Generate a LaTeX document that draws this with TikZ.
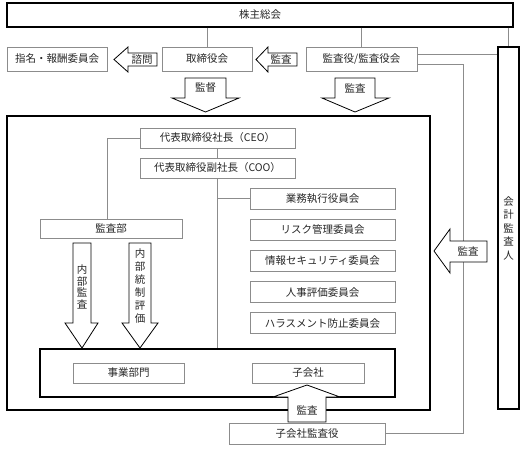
\documentclass[tikz,border=0pt]{standalone}
\usepackage{fontspec}
\newfontfamily\jpfont{Noto Sans CJK JP}
\usetikzlibrary{positioning}

\tikzset{
    jp/.style = {font=\jpfont\fontsize{10.5}{12}\selectfont, text=black!85},
    gbox/.style = {jp, draw=black!45, line width=0.7pt, inner sep=0pt, minimum height=21pt},
    tbox/.style = {jp, draw, line width=1.3pt, inner sep=0pt},
    gline/.style = {draw=black!45, line width=0.8pt},
    barrow/.style = {draw, line width=0.8pt, fill=white, line join=miter},
    vtext/.style = {jp, align=center, inner sep=0pt},
}

\begin{document}
\begin{tikzpicture}[x=1pt, y=-1pt]
    \useasboundingbox (0,0) rectangle (526,450);

    % shareholders and board level
    \node[tbox, minimum width=506pt, minimum height=24pt] (soukai) at (260,15) {株主総会};
    \node[gbox, minimum width=100pt, minimum height=24pt] (shimei) at (57,59) {指名・報酬委員会};
    \node[gbox, minimum width=90pt, minimum height=24pt] (torishimari) at (207,59) {取締役会};
    \node[gbox, minimum width=111pt, minimum height=24pt] (kansayaku) at (361.5,59) {監査役/監査役会};
    \node[tbox, minimum width=21pt, minimum height=362pt] (kaikei) at (508.5,228) {};
    \node[vtext, font=\jpfont\fontsize{10.5}{13.5}\selectfont] (kaikeilabel) at (kaikei.center) {会\\計\\監\\査\\人};

    \draw[gline] (torishimari |- soukai.south) -- (torishimari.north);
    \draw[gline] (kansayaku |- soukai.south) -- (kansayaku.north);
    \draw[gline] (kaikei |- soukai.south) -- (kaikei.north);
    \draw[gline] ([yshift=5pt]kansayaku.east) coordinate (k1) -- (k1 -| kaikei.west);

    % company
    \node[tbox, minimum width=423pt, minimum height=294pt] (honsha) at (218.5,263) {};
    \node[gbox, minimum width=155pt, minimum height=20pt] (ceo) at (217.5,138) {代表取締役社長（CEO）};
    \node[gbox, minimum width=155pt, minimum height=20pt] (coo) at (217.5,168) {代表取締役副社長（COO）};
    \node[gbox, minimum width=142pt, minimum height=19pt] (kansabu) at (111,229) {監査部};

    \node[gbox, minimum width=145pt] (gyomu) at (322.5,198.5) {業務執行役員会};
    \node[gbox, minimum width=145pt, below=9.5pt of gyomu] (risk) {リスク管理委員会};
    \node[gbox, minimum width=145pt, below=9.5pt of risk] (joho) {情報セキュリティ委員会};
    \node[gbox, minimum width=145pt, below=9.5pt of joho] (jinji) {人事評価委員会};
    \node[gbox, minimum width=145pt, below=9.5pt of jinji] (harassment) {ハラスメント防止委員会};

    \node[tbox, minimum width=355pt, minimum height=48pt] (genba) at (217.5,373) {};
    \node[gbox, minimum width=111pt, minimum height=20pt] (jigyo) at (128.5,373) {事業部門};
    \node[gbox, minimum width=112pt, minimum height=20pt] (kogaisha) at (308,373) {子会社};
    \node[gbox, minimum width=156pt, minimum height=21pt] (kokansa) at (307,433.5) {子会社監査役};

    \draw[gline] (ceo) -- (coo);
    \draw[gline] (coo.south) -- (coo.south |- genba.north);
    \draw[gline] (coo.south |- gyomu.west) -- (gyomu.west);
    \draw[gline] (ceo.west) -| ([xshift=-4pt]kansabu.north);
    \coordinate (kcorner) at (463,0);
    \draw[gline] ([yshift=-5pt]kansayaku.east) -| (kcorner |- kokansa.east) -- (kokansa.east);

    % block arrows
    \draw[barrow] (157,53) -- (128,53) -- (128,47) -- (114,59.5) -- (128,72) -- (128,66) -- (157,66) -- cycle;
    \node[jp] (shimon) at (142,59.5) {諮問};
    \draw[barrow] (297,53) -- (268,53) -- (268,47) -- (256,59.5) -- (268,72) -- (268,66) -- (297,66) -- cycle;
    \node[jp] (kansa1) at (281,59.5) {監査};

    \draw[barrow] (185,78) -- (226,78) -- (226,98) -- (239,98) -- (205.5,112) -- (172,98) -- (185,98) -- cycle;
    \node[jp] (kantoku) at (205.5,88) {監督};
    \draw[barrow] (335,78) -- (375,78) -- (375,98) -- (389,98) -- (355,112) -- (322,98) -- (335,98) -- cycle;
    \node[jp] (kansa2) at (355,88) {監査};

    \draw[barrow] (487,241) -- (450,241) -- (450,229) -- (434,251) -- (450,273) -- (450,262) -- (487,262) -- cycle;
    \node[jp] (kansa3) at (468,251.5) {監査};

    \draw[barrow] (288,422) -- (288,397) -- (273,397) -- (307,385) -- (340,397) -- (326,397) -- (326,422) -- cycle;
    \node[jp] (kansa4) at (307,410) {監査};

    \draw[barrow] (73,243) -- (91,243) -- (91,323) -- (98,323) -- (82,348) -- (65,323) -- (73,323) -- cycle;
    \node[vtext, font=\jpfont\fontsize{10.5}{11.5}\selectfont] (naibukansa) at (82,287) {内\\部\\監\\査};
    \draw[barrow] (129,243) -- (151,243) -- (151,323) -- (158,323) -- (140,348) -- (122,323) -- (129,323) -- cycle;
    \node[vtext, font=\jpfont\fontsize{10.5}{13}\selectfont] (naibutousei) at (140,286) {内\\部\\統\\制\\評\\価};
\end{tikzpicture}
\end{document}
